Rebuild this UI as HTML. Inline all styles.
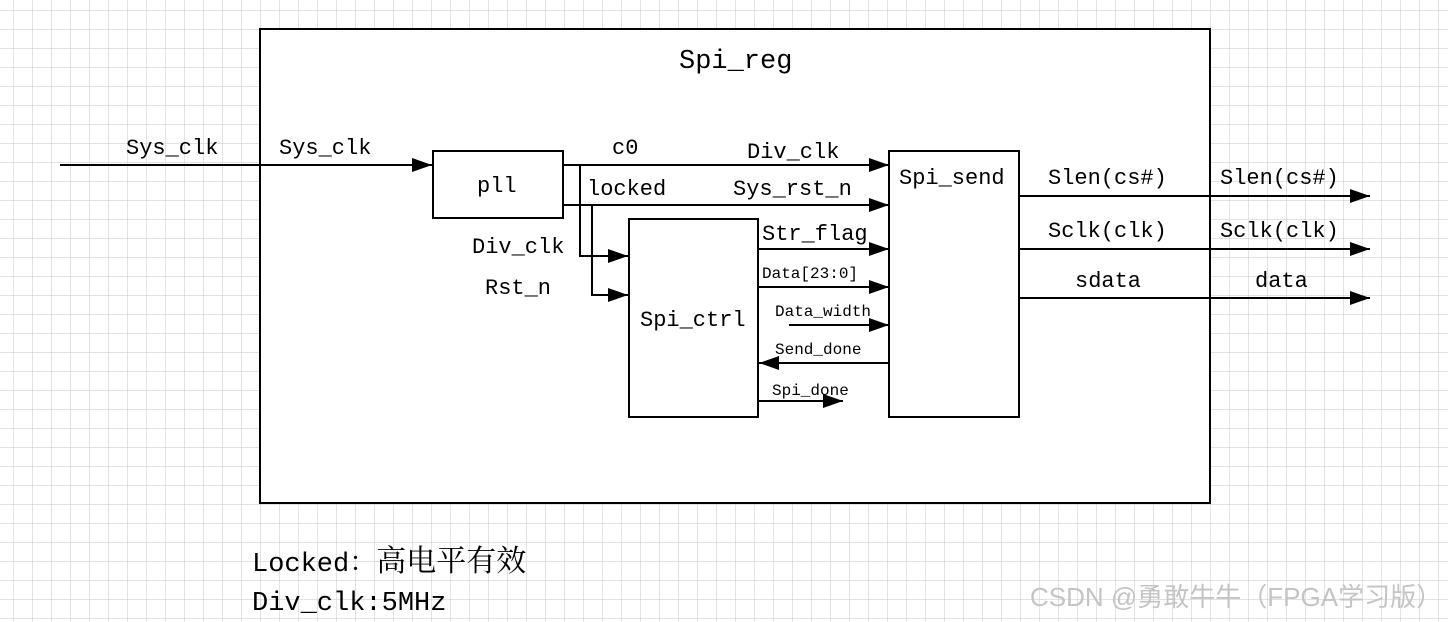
<!DOCTYPE html>
<html><head><meta charset="utf-8"><style>
html,body{margin:0;padding:0;background:#fff}
svg{display:block}
text{font-family:"Liberation Mono","Noto Serif CJK SC",monospace;fill:#000}
</style></head><body>
<svg width="1448" height="622" viewBox="0 0 1448 622" xmlns="http://www.w3.org/2000/svg">
<defs>
<pattern id="g" x="13" y="10" width="19" height="19" patternUnits="userSpaceOnUse">
<path d="M0 0H19M0 0V19" stroke="#d0d0d0" stroke-width="1.2" fill="none"/>
</pattern>
<marker id="a" markerWidth="20" markerHeight="14" refX="20" refY="7" orient="auto" markerUnits="userSpaceOnUse">
<path d="M0 0L20 7L0 14Z" fill="#000"/>
</marker>
</defs>
<rect width="1448" height="622" fill="#fff"/>
<rect width="1448" height="622" fill="url(#g)"/>
<g stroke="#000" stroke-width="2" fill="#fff">
<rect x="260" y="29" width="950" height="474"/>
<rect x="433" y="151" width="130" height="67"/>
<rect x="629" y="219" width="129" height="198"/>
<rect x="889" y="151" width="130" height="266"/>
</g>
<g stroke="#000" stroke-width="2" fill="none">
<line x1="60" y1="165" x2="432" y2="165" marker-end="url(#a)"/>
<line x1="563" y1="165" x2="889" y2="165" marker-end="url(#a)"/>
<line x1="563" y1="205" x2="889" y2="205" marker-end="url(#a)"/>
<polyline points="580,165 580,256 628,256" marker-end="url(#a)"/>
<polyline points="592,205 592,295 628,295" marker-end="url(#a)"/>
<line x1="758" y1="249" x2="889" y2="249" marker-end="url(#a)"/>
<line x1="758" y1="287" x2="889" y2="287" marker-end="url(#a)"/>
<line x1="789" y1="325" x2="889" y2="325" marker-end="url(#a)"/>
<line x1="889" y1="363" x2="759" y2="363" marker-end="url(#a)"/>
<line x1="758" y1="401" x2="843" y2="401" marker-end="url(#a)"/>
<line x1="1019" y1="196" x2="1370" y2="196" marker-end="url(#a)"/>
<line x1="1019" y1="249" x2="1370" y2="249" marker-end="url(#a)"/>
<line x1="1019" y1="298" x2="1370" y2="298" marker-end="url(#a)"/>
</g>
<g font-size="22">
<text x="126" y="154">Sys_clk</text>
<text x="279" y="154">Sys_clk</text>
<text x="477" y="192">pll</text>
<text x="612" y="154">c0</text>
<text x="747" y="158">Div_clk</text>
<text x="587" y="195">locked</text>
<text x="733" y="195">Sys_rst_n</text>
<text x="472" y="253">Div_clk</text>
<text x="485" y="294">Rst_n</text>
<text x="762" y="240">Str_flag</text>
<text x="640" y="326">Spi_ctrl</text>
<text x="899" y="184">Spi_send</text>
<text x="1048" y="184">Slen(cs#)</text>
<text x="1220" y="184">Slen(cs#)</text>
<text x="1048" y="237">Sclk(clk)</text>
<text x="1220" y="237">Sclk(clk)</text>
<text x="1075" y="287">sdata</text>
<text x="1255" y="287">data</text>
</g>
<g font-size="16">
<text x="762" y="278">Data[23:0]</text>
<text x="775" y="316">Data_width</text>
<text x="775" y="354">Send_done</text>
<text x="772" y="395">Spi_done</text>
</g>
<text x="679" y="68" font-size="27">Spi_reg</text>
<text x="252" y="571" font-size="27">Locked：<tspan font-size="30">高电平有效</tspan></text>
<text x="252" y="610" font-size="27">Div_clk:5MHz</text>
<text x="1030" y="606" font-size="26" style="font-family:'Liberation Sans','Noto Sans CJK SC',sans-serif;fill:#c4c4c4">CSDN @勇敢牛牛（FPGA学习版）</text>
</svg>
</body></html>
